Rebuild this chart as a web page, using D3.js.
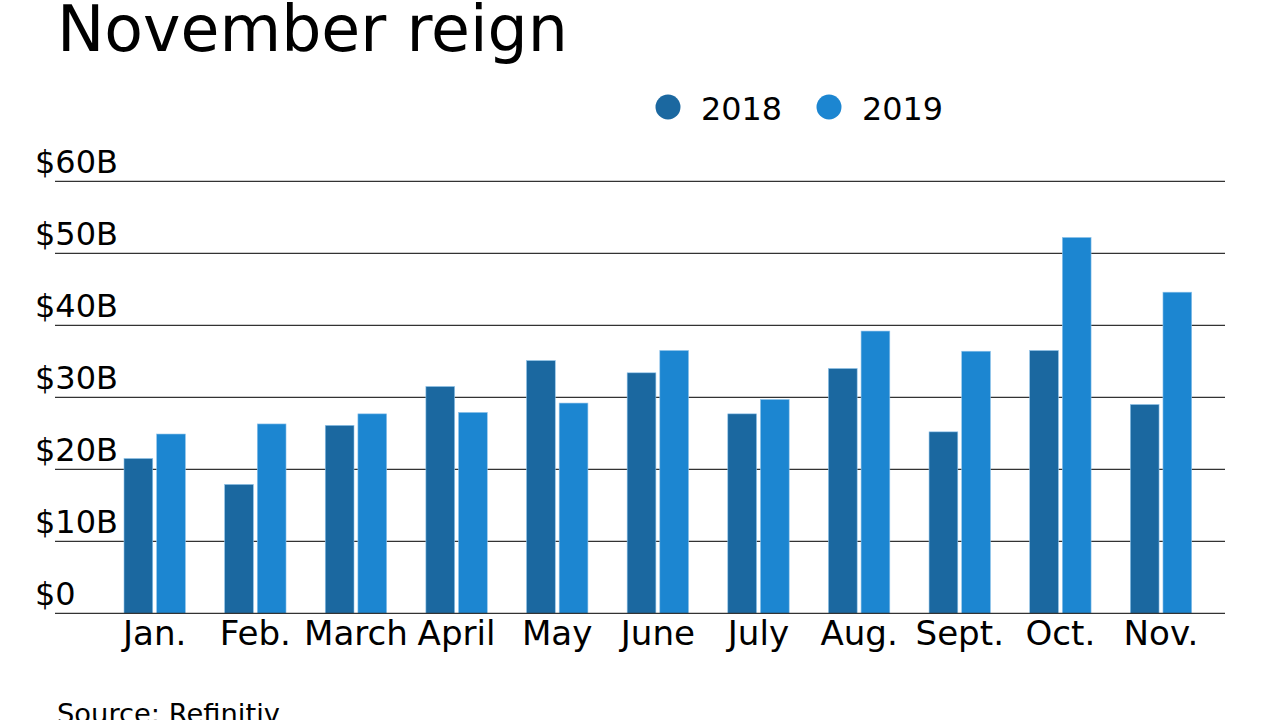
<!DOCTYPE html>
<html>
<head>
<meta charset="utf-8">
<script src="https://cdn.jsdelivr.net/npm/d3@7"></script>
<style>
  html, body { margin: 0; padding: 0; background: #fff; }
  svg { display: block; font-family: "DejaVu Sans", "Open Sans", sans-serif; }
</style>
</head>
<body>
<svg id="chart" width="1280" height="720"></svg>
<script>
const months = ["Jan.", "Feb.", "March", "April", "May", "June", "July", "Aug.", "Sept.", "Oct.", "Nov."];
const seriesNames = ["2018", "2019"];
const values2018 = [21.5, 17.9, 26.1, 31.5, 35.1, 33.4, 27.7, 34.0, 25.2, 36.5, 29.0];
const values2019 = [24.9, 26.3, 27.7, 27.9, 29.2, 36.5, 29.7, 39.2, 36.4, 52.2, 44.6];
const yTicks = [0, 10, 20, 30, 40, 50, 60];
const yTickLabels = ["$0", "$10B", "$20B", "$30B", "$40B", "$50B", "$60B"];
const colors = ["#1b68a0", "#1c86d1"];

const data = months.map((m, i) => ({ month: m, vals: [values2018[i], values2019[i]] }));

const svg = d3.select("#chart");

// helper: font size so that a sample string has a target width
function fitSize(sample, targetWidth) {
  const t = svg.append("text").attr("font-size", 100).text(sample);
  const w = t.node().getComputedTextLength();
  t.remove();
  return 100 * targetWidth / w;
}
const titleSize = fitSize("November reign", 511);
const yLabelSize = fitSize("$60B", 83);
const xLabelSize = fitSize("March", 104);
const legendSize = fitSize("2018", 81);
const sourceSize = fitSize("Source: Refinitiv", 223);

const x = d3.scaleBand().domain(months).range([124, 1191.7]).paddingInner(0.39).paddingOuter(0);
const xs = d3.scaleBand().domain(seriesNames).range([0, x.bandwidth()]).paddingInner(0.12);
const y = d3.scaleLinear().domain([0, 60]).range([613.3, 181.3]);

// Title
svg.append("text")
  .attr("x", 57).attr("y", 51)
  .attr("font-size", titleSize).attr("fill", "#000")
  .text("November reign");

// Legend
const legend = svg.append("g");
const legendX = [668, 829];
seriesNames.forEach((s, i) => {
  legend.append("circle").attr("cx", legendX[i]).attr("cy", 107).attr("r", 12.5).attr("fill", colors[i]);
  legend.append("text").attr("x", legendX[i] + 33).attr("y", 120)
    .attr("font-size", legendSize).attr("fill", "#000").text(s);
});

// Gridlines
svg.append("g").selectAll("line").data(yTicks.filter(d => d > 0)).join("line")
  .attr("x1", 55).attr("x2", 1225)
  .attr("y1", d => y(d)).attr("y2", d => y(d))
  .attr("stroke", "#333").attr("stroke-width", 1.3);

// Y tick labels
svg.append("g").selectAll("text").data(yTicks).join("text")
  .attr("x", 35).attr("y", d => y(d) - 8)
  .attr("font-size", yLabelSize).attr("fill", "#000")
  .text((d, i) => yTickLabels[i]);

// Bars
const groups = svg.append("g").selectAll("g").data(data).join("g")
  .attr("transform", d => `translate(${x(d.month)},0)`);
groups.selectAll("rect").data(d => d.vals.map((v, i) => ({ key: seriesNames[i], v, i }))).join("rect")
  .attr("x", d => xs(d.key))
  .attr("y", d => y(d.v))
  .attr("width", xs.bandwidth())
  .attr("height", d => y(0) - y(d.v))
  .attr("fill", d => colors[d.i])
  .attr("stroke", "#8fc3ea").attr("stroke-width", 0.6);

// Baseline
svg.append("line")
  .attr("x1", 55).attr("x2", 1225).attr("y1", y(0)).attr("y2", y(0))
  .attr("stroke", "#333").attr("stroke-width", 1.3);

// X labels
svg.append("g").selectAll("text").data(months).join("text")
  .attr("x", d => x(d) + x.bandwidth() / 2).attr("y", 645)
  .attr("text-anchor", "middle")
  .attr("font-size", xLabelSize).attr("fill", "#000")
  .text(d => d);

// Source
svg.append("text").attr("x", 57).attr("y", 723)
  .attr("font-size", sourceSize).attr("fill", "#000").text("Source: Refinitiv");
</script>
</body>
</html>
